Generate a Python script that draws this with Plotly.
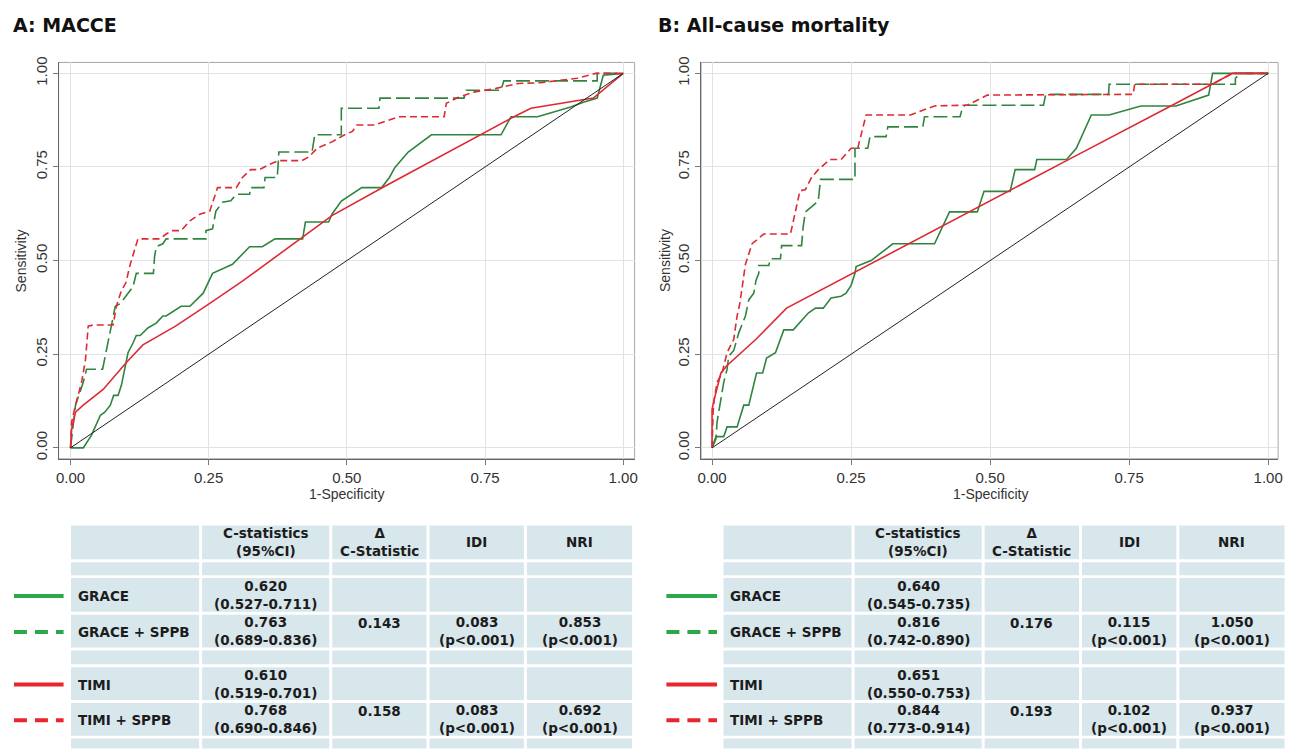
import plotly.graph_objects as go

# ---------------- ROC curve data (1-specificity, sensitivity) ----------------
# Panel A: MACCE
a_grace_x = [0, 0.023, 0.038, 0.054, 0.062, 0.072, 0.078, 0.086, 0.092, 0.099, 0.104, 0.113, 0.119, 0.126, 0.14,
             0.155, 0.167, 0.173, 0.189, 0.20, 0.216, 0.227, 0.24, 0.257, 0.293, 0.324, 0.347, 0.37, 0.42, 0.425,
             0.467, 0.473, 0.49, 0.527, 0.563, 0.577, 0.587, 0.611, 0.653, 0.779, 0.797, 0.845, 0.905, 0.928,
             0.953, 0.964, 1]
a_grace_y = [0, 0, 0.034, 0.087, 0.095, 0.114, 0.14, 0.14, 0.167, 0.22, 0.254, 0.28, 0.30, 0.30, 0.32,
             0.333, 0.352, 0.352, 0.368, 0.378, 0.378, 0.394, 0.413, 0.466, 0.49, 0.537, 0.537, 0.558, 0.558, 0.603,
             0.603, 0.624, 0.659, 0.695, 0.695, 0.722, 0.749, 0.79, 0.836, 0.836, 0.884, 0.884, 0.91, 0.923,
             0.934, 0.995, 1]

a_gsppb_x = [0, 0.005, 0.009, 0.023, 0.029, 0.058, 0.065, 0.072, 0.081, 0.09, 0.113, 0.119, 0.15, 0.152, 0.155,
             0.167, 0.173, 0.245, 0.245, 0.257, 0.263, 0.275, 0.29, 0.30, 0.324, 0.326, 0.35, 0.352, 0.374, 0.376,
             0.377, 0.437, 0.442, 0.49, 0.49, 0.558, 0.56, 0.712, 0.716, 0.779, 0.784, 0.953, 0.953, 1]
a_gsppb_y = [0, 0.06, 0.114, 0.175, 0.21, 0.21, 0.26, 0.315, 0.378, 0.385, 0.43, 0.466, 0.466, 0.51, 0.537,
             0.545, 0.558, 0.558, 0.58, 0.585, 0.632, 0.656, 0.66, 0.677, 0.677, 0.695, 0.695, 0.722, 0.722, 0.765,
             0.79, 0.79, 0.836, 0.836, 0.907, 0.907, 0.934, 0.934, 0.955, 0.955, 0.98, 0.98, 1.0, 1]

a_timi_x = [0, 0.002, 0.009, 0.023, 0.059, 0.101, 0.131, 0.19, 0.252, 0.311, 0.473, 0.568, 0.797, 0.833, 0.946, 1]
a_timi_y = [0, 0.05, 0.095, 0.114, 0.156, 0.228, 0.275, 0.325, 0.386, 0.445, 0.62, 0.698, 0.88, 0.907, 0.934, 1]

a_tsppb_x = [0, 0.002, 0.009, 0.02, 0.027, 0.032, 0.041, 0.077, 0.083, 0.092, 0.10, 0.108, 0.122, 0.162, 0.173,
             0.185, 0.2, 0.216, 0.234, 0.252, 0.266, 0.3, 0.311, 0.326, 0.342, 0.36, 0.377, 0.419, 0.432, 0.446,
             0.473, 0.496, 0.51, 0.518, 0.55, 0.57, 0.593, 0.676, 0.68, 0.70, 0.73, 0.77, 0.81, 0.85, 0.917,
             0.95, 1]
a_tsppb_y = [0, 0.069, 0.114, 0.175, 0.235, 0.325, 0.328, 0.328, 0.378, 0.42, 0.44, 0.49, 0.558, 0.558, 0.571,
             0.58, 0.58, 0.606, 0.624, 0.632, 0.695, 0.695, 0.722, 0.743, 0.743, 0.757, 0.767, 0.767, 0.778, 0.80,
             0.817, 0.836, 0.845, 0.862, 0.862, 0.873, 0.884, 0.884, 0.92, 0.935, 0.95, 0.96, 0.973, 0.975, 0.987,
             1.0, 1]

# Panel B: All-cause mortality
b_grace_x = [0, 0.007, 0.021, 0.027, 0.045, 0.057, 0.066, 0.08, 0.091, 0.098, 0.114, 0.12, 0.129, 0.146, 0.161,
             0.173, 0.186, 0.2, 0.214, 0.232, 0.241, 0.25, 0.257, 0.259, 0.286, 0.325, 0.40, 0.427, 0.477, 0.489,
             0.536, 0.545, 0.58, 0.584, 0.6375, 0.655, 0.682, 0.714, 0.771, 0.834, 0.893, 0.90, 1]
b_grace_y = [0, 0.03, 0.03, 0.056, 0.056, 0.114, 0.114, 0.2, 0.2, 0.24, 0.254, 0.28, 0.315, 0.315, 0.341,
             0.36, 0.373, 0.373, 0.40, 0.405, 0.413, 0.434, 0.466, 0.484, 0.50, 0.545, 0.545, 0.63, 0.63, 0.685,
             0.685, 0.743, 0.743, 0.77, 0.77, 0.80, 0.889, 0.889, 0.913, 0.913, 0.942, 1.0, 1]

b_gsppb_x = [0, 0.007, 0.009, 0.016, 0.021, 0.027, 0.03, 0.039, 0.048, 0.06, 0.066, 0.075, 0.079, 0.084, 0.084,
             0.102, 0.105, 0.123, 0.125, 0.161, 0.164, 0.168, 0.179, 0.191, 0.195, 0.257, 0.257, 0.28, 0.284,
             0.313, 0.316, 0.379, 0.382, 0.446, 0.45, 0.455, 0.596, 0.60, 0.713, 0.714, 0.941, 0.941, 0.95, 1]
b_gsppb_y = [0, 0.024, 0.069, 0.13, 0.175, 0.21, 0.245, 0.26, 0.307, 0.352, 0.395, 0.413, 0.447, 0.466, 0.487,
             0.487, 0.505, 0.505, 0.54, 0.54, 0.593, 0.63, 0.643, 0.659, 0.717, 0.717, 0.80, 0.80, 0.831,
             0.831, 0.857, 0.857, 0.884, 0.884, 0.907, 0.915, 0.915, 0.944, 0.944, 0.971, 0.971, 0.987, 1.0, 1]

b_timi_x = [0, 0, 0.004, 0.016, 0.027, 0.079, 0.134, 0.204, 0.254, 0.64, 0.83, 0.936, 1]
b_timi_y = [0, 0.103, 0.13, 0.20, 0.22, 0.29, 0.373, 0.428, 0.467, 0.769, 0.917, 1.0, 1]

b_tsppb_x = [0, 0.002, 0.004, 0.009, 0.018, 0.027, 0.039, 0.045, 0.05, 0.057, 0.06, 0.072, 0.093, 0.141, 0.152,
             0.158, 0.168, 0.179, 0.191, 0.212, 0.232, 0.25, 0.262, 0.277, 0.357, 0.40, 0.459, 0.495, 0.757,
             0.76, 0.90, 0.935, 1]
b_tsppb_y = [0, 0.10, 0.13, 0.175, 0.20, 0.254, 0.29, 0.352, 0.386, 0.466, 0.49, 0.545, 0.571, 0.571, 0.643,
             0.686, 0.69, 0.722, 0.743, 0.77, 0.77, 0.80, 0.80, 0.889, 0.889, 0.913, 0.915, 0.942, 0.944,
             0.971, 0.971, 1.0, 1]

ref_x = [0, 1]
ref_y = [0, 1]

# ---------------- Table data ----------------
models = ["GRACE", "GRACE + SPPB", "TIMI", "TIMI + SPPB"]
headers = ["C-statistics<br>(95%CI)", "Δ<br>C-Statistic", "IDI", "NRI"]

macce_c = ["0.620", "0.763", "0.610", "0.768"]
macce_ci = ["(0.527-0.711)", "(0.689-0.836)", "(0.519-0.701)", "(0.690-0.846)"]
macce_delta = ["", "0.143", "", "0.158"]
macce_idi = ["", "0.083", "", "0.083"]
macce_nri = ["", "0.853", "", "0.692"]

mort_c = ["0.640", "0.816", "0.651", "0.844"]
mort_ci = ["(0.545-0.735)", "(0.742-0.890)", "(0.550-0.753)", "(0.773-0.914)"]
mort_delta = ["", "0.176", "", "0.193"]
mort_idi = ["", "0.115", "", "0.102"]
mort_nri = ["", "1.050", "", "0.937"]

p_text = "(p<0.001)"

# ---------------- Styles ----------------
W, H = 1304, 751
GREEN = "#2f8540"
RED = "#de2a33"
LEG_GREEN = "#2ca84a"
LEG_RED = "#e8262d"
CELL = "#d8e7ec"
TXT = "#1c1c1c"
TFONT = "DejaVu Sans, Verdana, sans-serif"
AFONT = "Liberation Sans, Arial, sans-serif"


def px(x):
    return x / W


def py(y):
    return 1 - y / H


fig = go.Figure()

panels = [
    ("x", "y", [(a_grace_x, a_grace_y), (a_gsppb_x, a_gsppb_y), (a_timi_x, a_timi_y), (a_tsppb_x, a_tsppb_y)]),
    ("x2", "y2", [(b_grace_x, b_grace_y), (b_gsppb_x, b_gsppb_y), (b_timi_x, b_timi_y), (b_tsppb_x, b_tsppb_y)]),
]
styles = [
    dict(color=GREEN, width=1.6, dash="solid"),
    dict(color=GREEN, width=1.6, dash="14px,5px"),
    dict(color=RED, width=1.6, dash="solid"),
    dict(color=RED, width=1.6, dash="7px,4px"),
]
for xa, ya, curves in panels:
    for (cx, cy), name, st in zip(curves, models, styles):
        fig.add_trace(go.Scatter(x=cx, y=cy, mode="lines", name=name, line=st,
                                 xaxis=xa, yaxis=ya, showlegend=False, hoverinfo="skip"))
    fig.add_trace(go.Scatter(x=ref_x, y=ref_y, mode="lines", line=dict(color="#222222", width=1),
                             xaxis=xa, yaxis=ya, showlegend=False, hoverinfo="skip"))

tickvals = [0, 0.25, 0.5, 0.75, 1.0]
ticktext = ["0.00", "0.25", "0.50", "0.75", "1.00"]
common = dict(tickvals=tickvals, ticktext=ticktext, ticks="outside", ticklen=5, tickcolor="#777777",
              showgrid=True, gridcolor="#e2e2e2", gridwidth=1, zeroline=False, showline=True,
              linecolor="#666666", linewidth=1, tickfont=dict(family=AFONT, size=15, color="#333333"))

fig.update_layout(
    width=W, height=H, margin=dict(l=0, r=0, t=0, b=0),
    paper_bgcolor="white", plot_bgcolor="white", showlegend=False,
    xaxis=dict(domain=[px(55), px(635)], range=[-0.02156, 1.0207], anchor="y", ticklabelstandoff=0, **common),
    yaxis=dict(domain=[py(457), py(57)], range=[-0.0291, 1.0291], anchor="x", tickangle=-90,
               ticklabelstandoff=0, **common),
    xaxis2=dict(domain=[px(702), px(1283)], range=[-0.0196, 1.0179], anchor="y2", ticklabelstandoff=0, **common),
    yaxis2=dict(domain=[py(457), py(57)], range=[-0.0291, 1.0291], anchor="x2", tickangle=-90,
                ticklabelstandoff=0, **common),
)

shapes = []
annotations = []

# plot region outlines
for xr, yr in [("x domain", "y domain"), ("x2 domain", "y2 domain")]:
    shapes.append(dict(type="rect", xref=xr, yref=yr, x0=0, x1=1, y0=0, y1=1,
                       line=dict(color="#a8a8a8", width=1), layer="below"))

# titles and axis titles
for x0, title, xcenter in [(7, "A: MACCE", 345), (657, "B: All-cause mortality", 993)]:
    annotations.append(dict(xref="paper", yref="paper", x=px(x0), y=py(19), text=title, showarrow=False,
                            xanchor="left", yanchor="middle",
                            font=dict(family=TFONT, size=19, color="#111111", weight="bold")))
    annotations.append(dict(xref="paper", yref="paper", x=px(xcenter), y=py(493), text="1-Specificity",
                            showarrow=False, xanchor="center", yanchor="middle",
                            font=dict(family=AFONT, size=14, color="#333333")))
for xs in [17, 665]:
    annotations.append(dict(xref="paper", yref="paper", x=px(xs), y=py(257), text="Sensitivity",
                            showarrow=False, textangle=-90, xanchor="center", yanchor="middle",
                            font=dict(family=AFONT, size=14, color="#333333")))

# tables
col_a = [66, 198, 329, 427, 525, 634]
rows = [523, 560, 576, 613, 649, 666, 702, 738, 751]
model_rows = [2, 3, 5, 6]  # row index (in rows) for each model
gap = 1.5
tables = [
    (0, 10, 60, macce_c, macce_ci, macce_delta, macce_idi, macce_nri),
    (657, 667, 718, mort_c, mort_ci, mort_delta, mort_idi, mort_nri),
]
leg_styles = [(LEG_GREEN, "solid"), (LEG_GREEN, "13px,8px"), (LEG_RED, "solid"), (LEG_RED, "13px,8px")]
fnt = dict(family=TFONT, size=13.5, color=TXT, weight="bold")
lfnt = dict(family=TFONT, size=13.5, color=TXT, weight="bold")

for off, lx0, lx1, cvals, cis, deltas, idis, nris in tables:
    cols = [c + off for c in col_a]
    for ri in range(len(rows) - 1):
        for ci in range(len(cols) - 1):
            shapes.append(dict(type="rect", xref="paper", yref="paper",
                               x0=px(cols[ci] + gap), x1=px(cols[ci + 1] - gap),
                               y0=py(rows[ri + 1] - gap), y1=py(rows[ri] + gap),
                               fillcolor=CELL, line=dict(width=0), layer="below"))
    centers = [(cols[i] + cols[i + 1]) / 2 for i in range(len(cols) - 1)]
    hy = (rows[0] + rows[1]) / 2
    for h, cx in zip(headers, centers[1:]):
        annotations.append(dict(xref="paper", yref="paper", x=px(cx), y=py(hy), text=h, showarrow=False,
                                xanchor="center", yanchor="middle", font=fnt))
    for k, (m, (lc, ld)) in enumerate(zip(models, leg_styles)):
        r = model_rows[k]
        cy = (rows[r] + rows[r + 1]) / 2
        shapes.append(dict(type="line", xref="paper", yref="paper", x0=px(lx0), x1=px(lx1),
                           y0=py(cy + 1), y1=py(cy + 1), line=dict(color=lc, width=4, dash=ld)))
        annotations.append(dict(xref="paper", yref="paper", x=px(cols[0] + 6), y=py(cy + 1), text=m,
                                showarrow=False, xanchor="left", yanchor="middle", font=lfnt))
        annotations.append(dict(xref="paper", yref="paper", x=px(centers[1]), y=py(cy),
                                text=cvals[k] + "<br>" + cis[k], showarrow=False,
                                xanchor="center", yanchor="middle", font=fnt))
        if deltas[k]:
            annotations.append(dict(xref="paper", yref="paper", x=px(centers[2]), y=py(cy - 8),
                                    text=deltas[k], showarrow=False, xanchor="center", yanchor="middle",
                                    font=fnt))
            annotations.append(dict(xref="paper", yref="paper", x=px(centers[3]), y=py(cy),
                                    text=idis[k] + "<br>" + p_text, showarrow=False, xanchor="center",
                                    yanchor="middle", font=fnt))
            annotations.append(dict(xref="paper", yref="paper", x=px(centers[4]), y=py(cy),
                                    text=nris[k] + "<br>" + p_text, showarrow=False, xanchor="center",
                                    yanchor="middle", font=fnt))

fig.update_layout(shapes=shapes, annotations=annotations)
fig.write_html("out.html", config={"displayModeBar": False},
               post_script="document.body.style.margin='0';document.body.style.overflow='hidden';")
